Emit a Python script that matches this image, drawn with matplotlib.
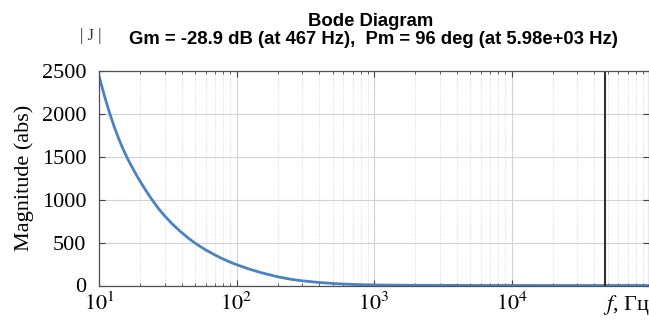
import matplotlib
matplotlib.use("Agg")
import matplotlib.pyplot as plt
from matplotlib.ticker import LogLocator, NullFormatter, FixedLocator

# Data
freq_hz = [10, 11, 12, 13, 14, 15, 16, 17, 18.8, 20, 22, 24.2, 27, 30, 34,
           38.8, 44, 49, 55, 60, 70, 80, 90, 100, 125, 150, 200, 250, 300,
           400, 500, 600, 800, 1000, 1500, 2000, 5000, 10000, 100000]
magnitude = [2440, 2200, 2000, 1835, 1700, 1586, 1491, 1409, 1282, 1209, 1103,
             1004, 899, 812, 720, 634, 560, 504, 450, 413, 354, 308, 272, 243,
             189, 151, 101, 72, 55, 35, 24, 17, 9.5, 6.5, 4, 2.5, 0.8, 0.3, 0]
y_ticks = [0, 500, 1000, 1500, 2000, 2500]
x_ticks = [10, 100, 1000, 10000]
x_tick_labels = [r"$10^1$", r"$10^2$", r"$10^3$", r"$10^4$"]
marker_freq = 4.8e4

title1 = "Bode Diagram"
title2 = "Gm = -28.9 dB (at 467 Hz),  Pm = 96 deg (at 5.98e+03 Hz)"

plt.rcParams["mathtext.fontset"] = "stix"

W, H = 649, 322
fig = plt.figure(figsize=(W / 100, H / 100), dpi=100)
ax = fig.add_axes([99 / W, 1 - 285.5 / H, (W - 99) / W, (285.5 - 71) / H])

ax.plot(freq_hz, magnitude, color="#4a82c4", lw=2.0,
        solid_joinstyle="round")
ax.set_xscale("log")
ax.set_xlim(10, 1e5)
ax.set_ylim(0, 2500)

serif = "Liberation Serif"
ax.set_yticks(y_ticks)
ax.set_yticklabels([str(v) for v in y_ticks], fontfamily=serif, fontsize=16)
ax.xaxis.set_major_locator(FixedLocator(x_ticks))
ax.set_xticklabels(x_tick_labels, fontfamily=serif, fontsize=16)
ax.xaxis.set_minor_locator(LogLocator(base=10, subs=range(2, 10), numticks=20))
ax.xaxis.set_minor_formatter(NullFormatter())

ax.tick_params(which="both", direction="in", top=True, right=True,
               color="#404040")
ax.tick_params(which="major", length=4)
ax.tick_params(axis="y", which="major", pad=9)
ax.tick_params(axis="x", which="major", pad=5)
ax.tick_params(which="minor", length=2)

ax.grid(True, which="major", color="#d2d2d2", lw=0.8, ls="-")
ax.grid(True, which="minor", axis="x", color="#d8d8d8", lw=0.7, ls=":")
ax.set_axisbelow(True)
for s in ax.spines.values():
    s.set_color("#505050")
    s.set_linewidth(0.9)

ax.axvline(marker_freq, color="#303030", lw=1.5)

ax.set_ylabel("Magnitude (abs)", fontfamily=serif, fontsize=16, labelpad=6)

fig.text(371 / W, 1 - 22 / H, title1, ha="center", va="center",
         fontfamily="Liberation Sans", fontweight="bold", fontsize=13.3)
fig.text(373 / W, 1 - 40 / H, title2, ha="center", va="center",
         fontfamily="Liberation Sans", fontweight="bold", fontsize=13.3)
fig.text(91 / W, 1 - 36 / H, "| J |", ha="center", va="center",
         fontfamily=serif, fontsize=12, color="#333333")
fig.text(626 / W, 1 - 305 / H, r"$f$, Гц", ha="center", va="center",
         fontfamily=serif, fontsize=16)

fig.savefig("out.png", dpi=100)
